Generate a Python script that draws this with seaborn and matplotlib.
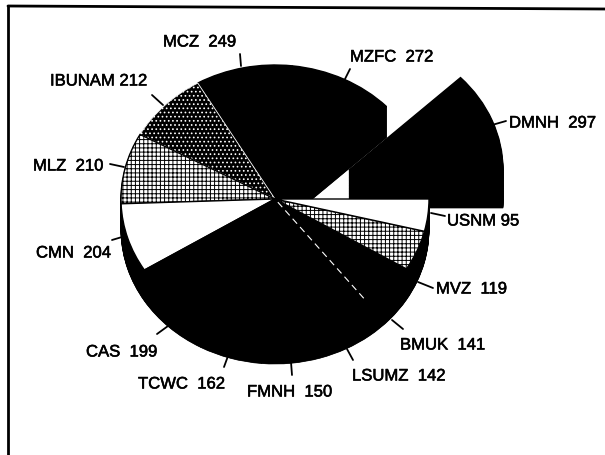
import numpy as np
import matplotlib
matplotlib.use('Agg')
import matplotlib.pyplot as plt
import matplotlib.patheffects as pe
import seaborn as sns

## Chart values, counter clockwise from the east
names = ['DMNH', 'MZFC', 'MCZ', 'IBUNAM', 'MLZ', 'CMN', 'CAS', 'TCWC', 'FMNH', 'LSUMZ', 'BMUK', 'MVZ', 'USNM']
counts = [297, 272, 249, 212, 210, 204, 199, 162, 150, 142, 141, 119, 95]

sns.set_theme(style='white')
plt.rcParams['font.family'] = ['Liberation Sans', 'DejaVu Sans']
plt.rcParams['hatch.linewidth'] = 0.7

# pie geometry in pixels
cx, cy = 275, 200
rx, ry = 154, 134
depth = 31
pull_x, pull_y = 74, 29  # how far the DMNH slice is pulled out
pull_depth = 38  # the pulled slice looks a bit thicker in the original

fig = plt.figure(figsize=(6.05, 4.56), dpi=100)
ax = fig.add_axes([0, 0, 1, 1])


def draw_pie(d, lw):
    wedges, _ = ax.pie(counts, startangle=0, center=(0, -d / ry), colors=['black'] * len(counts),
                       wedgeprops={'linewidth': lw, 'edgecolor': 'black'})
    wedges[0].set_center((pull_x / rx, (pull_y - d * pull_depth / depth) / ry))
    return wedges


# stack of black copies gives the thick side of the pie
for d in np.arange(depth, 0, -0.5):
    draw_pie(d, 0.5)
wedges = draw_pie(0, 1)

# fills of the top face
wedges[names.index('USNM')].set_facecolor('white')
wedges[names.index('CMN')].set_facecolor('white')
wedges[names.index('MLZ')].set(facecolor='white', hatch='++++', edgecolor='black')
wedges[names.index('MVZ')].set(facecolor='white', hatch='++++', edgecolor='black')
wedges[names.index('IBUNAM')].set(facecolor='black', hatch='....', edgecolor='white', linewidth=0.6)

# thin broken line between BMUK and LSUMZ
ang = 360 * sum(counts[:names.index('BMUK')]) / sum(counts)
r = np.array([0.03, 0.95])
ax.plot(r * np.cos(np.radians(ang)), r * np.sin(np.radians(ang)), color='white', lw=0.8, ls=(0, (6, 4)))

ax.set_aspect('auto')
ax.set_xlim(-cx / rx, (605 - cx) / rx)
ax.set_ylim((cy - 456) / ry, cy / ry)
ax.axis('off')

# labels and frame in pixel coordinates
over = fig.add_axes([0, 0, 1, 1])
over.set_xlim(0, 605)
over.set_ylim(456, 0)
over.axis('off')
over.patch.set_alpha(0)
over.plot([8, 8], [456, 7], color='black', lw=2)
over.plot([8, 605], [7, 10], color='black', lw=2)

label_pos = {'MCZ': (163, 43), 'MZFC': (350, 58), 'DMNH': (509, 124), 'USNM': (447, 222), 'MVZ': (436, 290),
             'BMUK': (400, 346), 'LSUMZ': (352, 377), 'FMNH': (247, 393), 'TCWC': (138, 385), 'CAS': (86, 353),
             'CMN': (36, 254), 'MLZ': (33, 167), 'IBUNAM': (50, 82)}
leaders = {'MCZ': (240, 55, 241, 67), 'MZFC': (350, 70, 345, 80), 'DMNH': (506, 122, 492, 126),
           'USNM': (445, 217, 431, 214), 'MVZ': (433, 289, 418, 283), 'BMUK': (403, 330, 392, 321),
           'LSUMZ': (353, 361, 347, 350), 'FMNH': (292, 376, 291, 363), 'TCWC': (224, 368, 228, 357),
           'CAS': (157, 335, 168, 327), 'CMN': (112, 241, 122, 238), 'MLZ': (110, 165, 124, 168),
           'IBUNAM': (152, 96, 163, 106)}
single_space = ['IBUNAM', 'USNM']
for name, n in zip(names, counts):
    x, y = label_pos[name]
    gap = ' ' if name in single_space else '  '
    over.text(x, y, f'{name}{gap}{n}', fontsize=12, color='black', ha='left', va='center',
              path_effects=[pe.withStroke(linewidth=0.4, foreground='black')])
    x0, y0, x1, y1 = leaders[name]
    over.plot([x0, x1], [y0, y1], color='black', lw=1.3)

plt.savefig('out.png', dpi=100)
